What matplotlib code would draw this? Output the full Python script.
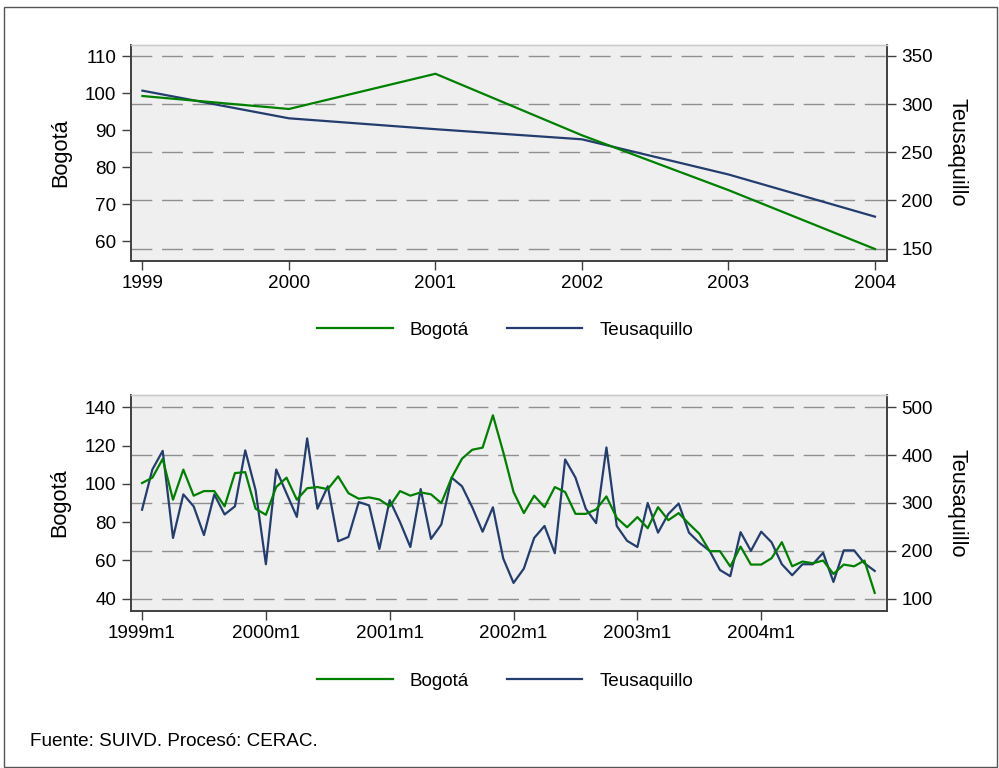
import matplotlib
matplotlib.use("Agg")
import matplotlib.pyplot as plt
from matplotlib.patches import Rectangle

plt.rcParams['font.family'] = ['Liberation Sans', 'DejaVu Sans']
plt.rcParams['lines.scale_dashes'] = False

# ---------------- data ----------------
years = [1999, 2000, 2001, 2002, 2003, 2004]
bog_year = [99.2, 95.7, 105.2, 88.6, 73.8, 57.9]
teu_year = [314, 285.3, 274, 263.5, 227, 183.2]

month_labels = ["1999m1", "2000m1", "2001m1", "2002m1", "2003m1", "2004m1"]
bog_month = [100.4, 103.2, 113, 91.7, 107.4, 93.8, 96.2, 96.2, 88.2, 105.6, 106.1, 87,
             83.8, 98.3, 103.2, 91.7, 97.7, 98.3, 97.2, 103.9, 95.1, 92.2, 92.9, 91.8,
             88.2, 96.2, 93.8, 95.5, 94.5, 89.9, 103.2, 113.1, 117.8, 118.9, 135.8, 116.6,
             95.7, 84.7, 93.8, 87.8, 98.3, 95.7, 84.3, 84.3, 86.6, 93.4, 82.2, 77.3,
             82.6, 76.8, 87.8, 81, 84.7, 79.1, 73.9, 64.8, 64.8, 56.8, 67.2, 57.8,
             57.8, 61.1, 69.5, 56.9, 59.4, 58.5, 59.9, 52.9, 57.8, 56.9, 59.9, 43]
teu_month = [286, 370, 409, 227, 318, 293, 233, 318, 276, 293, 410, 327,
             172, 370, 320, 271, 435, 288, 335, 220, 229, 302, 295, 204,
             306, 260, 208, 329, 225, 255, 353, 335, 291, 240, 291, 184,
             133, 163, 227, 252, 195, 391, 353, 288, 258, 416, 252, 221,
             208, 300, 238, 277, 299, 238, 217, 200, 160, 147, 239, 200,
             240, 218, 172, 149, 172, 172, 196, 135, 201, 201, 174, 158]
months = list(range(len(bog_month)))

left_ticks_top = [60, 70, 80, 90, 100, 110]
right_ticks_top = [150, 200, 250, 300, 350]
left_ticks_bot = [40, 60, 80, 100, 120, 140]
right_ticks_bot = [100, 200, 300, 400, 500]

GREEN = '#008000'
NAVY = '#233d6e'
BG = '#efefef'
AXC = '#404040'
FS = 13.6
TFS = 15.7

W, H = 999, 768
fig = plt.figure(figsize=(W / 100, H / 100), dpi=100)
fig.patch.set_facecolor('white')
fig.add_artist(Rectangle((4 / W, 1 / H), (W - 6) / W, (H - 8) / H, transform=fig.transFigure,
                         fill=False, edgecolor='#555555', linewidth=1.0))


def make_panel(rect, x, yb, yt, xlim, ylim_l, ylim_r, lticks, rticks, xticks, xlabels):
    ax = fig.add_axes(rect)  # right axis (Teusaquillo) with grid
    ax.set_facecolor(BG)
    ax.set_xlim(*xlim)
    ax.set_ylim(*ylim_r)
    ax.set_yticks(rticks)
    ax.grid(axis='y', color='#8f8f8f', linestyle=(0, (15, 7)), linewidth=1.0)
    ax.set_axisbelow(True)
    lt, = ax.plot(x, yt, color=NAVY, linewidth=1.6, label='Teusaquillo', zorder=3)
    ax.set_xticks(xticks)
    ax.set_xticklabels(xlabels)

    ax2 = ax.twinx()
    # swap sides: main axes (Teusaquillo) on the right, twin (Bogotá) on the left
    ax.yaxis.tick_right()
    ax.yaxis.set_label_position('right')
    ax.set_ylabel('Teusaquillo', rotation=270, fontsize=TFS, labelpad=25)
    ax2.yaxis.tick_left()
    ax2.yaxis.set_label_position('left')
    ax2.set_ylim(*ylim_l)
    ax2.set_yticks(lticks)
    lb, = ax2.plot(x, yb, color=GREEN, linewidth=1.6, label='Bogotá', zorder=3)
    ax2.set_ylabel('Bogotá', fontsize=TFS, labelpad=10)

    for a in (ax, ax2):
        a.tick_params(labelsize=FS, length=6.5, width=1.0, color=AXC, pad=4)
        for s in ('left', 'bottom', 'right'):
            a.spines[s].set_color(AXC)
            a.spines[s].set_linewidth(1.2)
        a.spines['top'].set_color('#cccccc')
        a.spines['top'].set_linewidth(1.0)
    ax2.tick_params(axis='x', bottom=False, labelbottom=False)
    return lb, lt


# top panel
lb1, lt1 = make_panel([130.7 / W, 1 - 260.7 / H, 756 / W, 216 / H], years, bog_year, teu_year,
                      (1998.92, 2004.08), (54.75, 113.05), (137.5, 361.7),
                      left_ticks_top, right_ticks_top, years, [str(y) for y in years])
fig.legend(handles=[lb1, lt1], loc='center', bbox_to_anchor=(505 / W, 1 - 330 / H), ncol=2,
           frameon=False, fontsize=FS, handlelength=4.0, handletextpad=0.9, columnspacing=2.0)

# bottom panel
lb2, lt2 = make_panel([130.7 / W, 1 - 610.7 / H, 756 / W, 215.7 / H], months, bog_month, teu_month,
                      (-1.1, 72.16), (33.7, 146.4), (74.9, 525.7),
                      left_ticks_bot, right_ticks_bot, [0, 12, 24, 36, 48, 60], month_labels)
fig.legend(handles=[lb2, lt2], loc='center', bbox_to_anchor=(505 / W, 1 - 681 / H), ncol=2,
           frameon=False, fontsize=FS, handlelength=4.0, handletextpad=0.9, columnspacing=2.0)

fig.text(30 / W, 1 - 742 / H, 'Fuente: SUIVD. Procesó: CERAC.', fontsize=FS, va='center', ha='left')

fig.savefig('out.png', dpi=100, facecolor='white')
